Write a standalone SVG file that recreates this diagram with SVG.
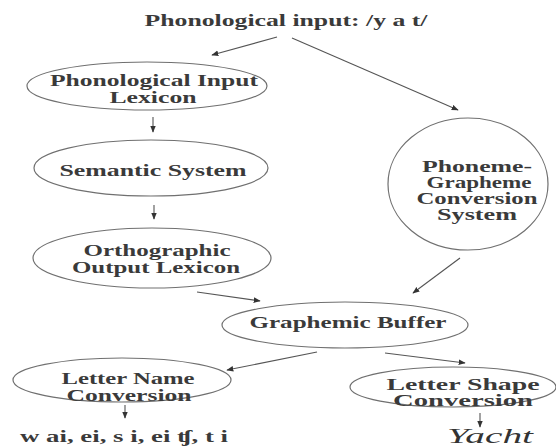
<svg xmlns="http://www.w3.org/2000/svg" width="556" height="447" viewBox="0 0 556 447">
<style>
.n{fill:none;stroke:#707070;stroke-width:1.2}
.t{font-family:"Liberation Serif","Times New Roman",serif;font-size:16px;font-weight:bold;fill:#3a3a3a;text-anchor:middle}
.c{stroke:#555;stroke-width:1.1;fill:none}
</style>
<defs>
<marker id="a" viewBox="0 0 10 10" refX="9" refY="5" markerWidth="7" markerHeight="7" orient="auto" markerUnits="userSpaceOnUse">
<path d="M0,1 L10,5 L0,9 z" fill="#333"/>
</marker>
</defs>
<rect width="556" height="447" fill="#fff"/>
<g id="title"><text class="t" x="286" y="26" textLength="283" lengthAdjust="spacingAndGlyphs" style="font-size:17px">Phonological input: /y a t/</text></g>
<g id="pil"><ellipse class="n" cx="147" cy="86" rx="120" ry="24"/><text class="t" x="154" y="86" textLength="208" lengthAdjust="spacingAndGlyphs">Phonological Input</text><text class="t" x="153" y="103" textLength="87" lengthAdjust="spacingAndGlyphs">Lexicon</text></g>
<g id="sem"><ellipse class="n" cx="151" cy="168" rx="117" ry="28"/><text class="t" x="153" y="176" textLength="187" lengthAdjust="spacingAndGlyphs" style="font-size:17px">Semantic System</text></g>
<g id="ool"><ellipse class="n" cx="152" cy="258" rx="119" ry="30"/><text class="t" x="157" y="256" textLength="147" lengthAdjust="spacingAndGlyphs">Orthographic</text><text class="t" x="156" y="273" textLength="168" lengthAdjust="spacingAndGlyphs">Output Lexicon</text></g>
<g id="pgcs"><ellipse class="n" cx="468" cy="184" rx="80" ry="66"/><text class="t" x="477" y="172" textLength="110" lengthAdjust="spacingAndGlyphs">Phoneme-</text><text class="t" x="479" y="188" textLength="105" lengthAdjust="spacingAndGlyphs">Grapheme</text><text class="t" x="477" y="204" textLength="121" lengthAdjust="spacingAndGlyphs">Conversion</text><text class="t" x="477" y="220" textLength="80" lengthAdjust="spacingAndGlyphs">System</text></g>
<g id="gb"><ellipse class="n" cx="345" cy="325" rx="123" ry="23"/><text class="t" x="348" y="328" textLength="197" lengthAdjust="spacingAndGlyphs" style="font-size:17px">Graphemic Buffer</text></g>
<g id="lnc"><ellipse class="n" cx="122" cy="380" rx="109" ry="22"/><text class="t" x="128" y="384" textLength="133" lengthAdjust="spacingAndGlyphs">Letter Name</text><text class="t" x="129" y="401" textLength="125" lengthAdjust="spacingAndGlyphs">Conversion</text></g>
<g id="lsc"><ellipse class="n" cx="453" cy="387" rx="103" ry="20"/><text class="t" x="463" y="390" textLength="153" lengthAdjust="spacingAndGlyphs">Letter Shape</text><text class="t" x="463" y="406" textLength="140" lengthAdjust="spacingAndGlyphs">Conversion</text></g>
<g id="out1"><text class="t" x="124" y="442" textLength="208" lengthAdjust="spacingAndGlyphs" style="font-size:17px">w ai, ei, s i, ei ʧ, t i</text></g>
<g id="out2"><text x="490" y="443" textLength="86" lengthAdjust="spacingAndGlyphs" style="font-family:'Liberation Serif',serif;font-style:italic;font-size:22px;fill:#333;text-anchor:middle">Yacht</text></g>
<g id="connectors">
<line class="c" x1="277" y1="37" x2="212" y2="55" marker-end="url(#a)"/>
<line class="c" x1="292" y1="38" x2="458" y2="110" marker-end="url(#a)"/>
<line class="c" x1="153" y1="117" x2="153" y2="132" marker-end="url(#a)"/>
<line class="c" x1="154" y1="205" x2="154" y2="219" marker-end="url(#a)"/>
<line class="c" x1="197" y1="292" x2="260" y2="301" marker-end="url(#a)"/>
<line class="c" x1="460" y1="258" x2="413" y2="293" marker-end="url(#a)"/>
<line class="c" x1="317" y1="352" x2="227" y2="370" marker-end="url(#a)"/>
<line class="c" x1="385" y1="353" x2="465" y2="363" marker-end="url(#a)"/>
<line class="c" x1="125" y1="405" x2="125" y2="418" marker-end="url(#a)"/>
<line class="c" x1="480" y1="413" x2="480" y2="427" marker-end="url(#a)"/>
</g>
</svg>
